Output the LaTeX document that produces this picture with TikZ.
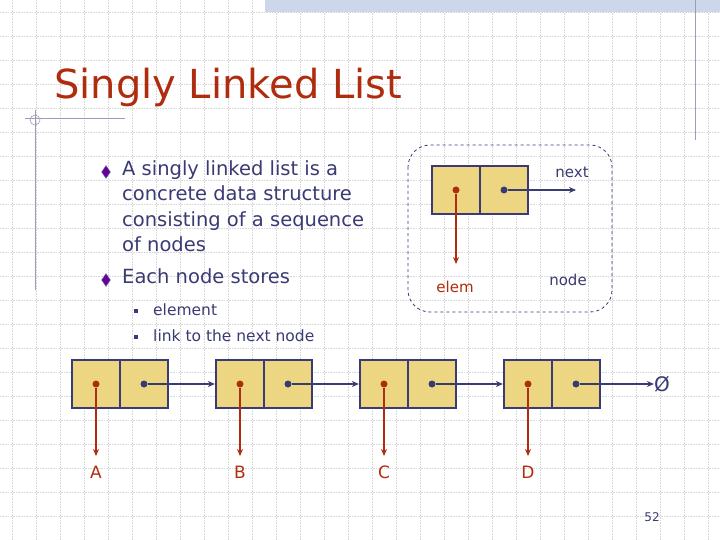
\documentclass[tikz,border=0pt]{standalone}
\usepackage{fontspec}
\setmainfont{DejaVu Sans}
\usetikzlibrary{positioning,arrows.meta,shapes.geometric}
\definecolor{cellfill}{RGB}{236,214,130}
\definecolor{navy}{RGB}{58,58,116}
\definecolor{rust}{RGB}{176,44,14}
\definecolor{gridcol}{RGB}{215,215,215}
\definecolor{bandcol}{RGB}{205,215,235}
\tikzset{
  cell/.style={draw=navy,line width=2.2pt,fill=cellfill,minimum width=48pt,minimum height=48pt,inner sep=0pt},
  elemarrow/.style={draw=rust,line width=2.5pt,-{Stealth[length=7pt,width=6pt]}},
  nextarrow/.style={draw=navy,line width=2.5pt,-{Stealth[length=7pt,width=6pt]}},
  dotr/.style={circle,fill=rust,inner sep=0pt,minimum size=7pt},
  dotn/.style={circle,fill=navy,inner sep=0pt,minimum size=7pt},
  lbl/.style={font=\fontsize{15}{18}\selectfont,inner sep=0pt},
  body/.style={font=\fontsize{19.5}{25.5}\selectfont,text=navy,align=left,anchor=north west,inner sep=0pt},
  sub/.style={font=\fontsize{15.5}{26}\selectfont,text=navy,anchor=west,inner sep=0pt},
  bullet/.style={diamond,draw=navy!70,fill=violet!80!blue,inner sep=0pt,minimum width=9pt,minimum height=13pt},
  sqbullet/.style={rectangle,fill=navy,inner sep=0pt,minimum size=4.5pt}
}
\begin{document}
\begin{tikzpicture}[x=1pt,y=-1pt]
\useasboundingbox (0,0) rectangle (720,540);
\fill[white] (0,0) rectangle (720,540);
% grid
\foreach \gx in {12,36,...,708} \draw[gridcol,densely dotted,line width=0.6pt] (\gx,0) -- (\gx,540);
\foreach \gy in {12,36,...,540} \draw[gridcol,densely dotted,line width=0.6pt] (0,\gy) -- (720,\gy);
\fill[bandcol] (265,0) rectangle (720,12);
\draw[navy!50,line width=0.8pt] (695,0) -- (695,140);
\draw[navy!50,line width=0.8pt] (25,118) -- (125,118);
\draw[navy!50,line width=0.8pt] (35,110) -- (35,290);
\draw[navy!50,line width=0.6pt] (35,120) circle (5pt);
% title
\node[anchor=west,text=rust,font=\fontsize{40}{44}\selectfont,inner sep=0pt] (title) at (54,87) {Singly Linked List};
% text
\node[bullet] (b1) at (106,172) {};
\node[body] (t1) at (122,160) {A singly linked list is a\\concrete data structure\\consisting of a sequence\\of nodes};
\node[bullet] (b2) at (106,280) {};
\node[body] (t2) at (122,268) {Each node stores};
\node[sqbullet] (s1) at (136,311) {};
\node[sub] (u1) at (153,310) {element};
\node[sqbullet] (s2) at (136,337) {};
\node[sub] (u2) at (153,336) {link to the next node};
% node legend
\draw[navy,dashed,line width=0.8pt,rounded corners=22pt] (408,145) rectangle (612,312);
\node[cell] (e0) at (456,190) {};
\node[cell] (n0) at (504,190) {};
\node[dotr] (de0) at (456,190) {};
\node[dotn] (dn0) at (504,190) {};
\coordinate (ee0) at (456,264);
\coordinate (ne0) at (576,190);
\draw[elemarrow] (de0) -- (ee0);
\draw[nextarrow] (dn0) -- (ne0);
\node[lbl,text=rust] (elem) at (455,287) {elem};
\node[lbl,text=navy] (next) at (572,172) {next};
\node[lbl,text=navy] (nodel) at (568,280) {node};
% list
\foreach \i/\name/\x in {1/A/96,2/B/240,3/C/384,4/D/528}{
  \node[cell] (e\i) at (\x,384) {};
  \node[cell] (n\i) at (\x+48,384) {};
  \node[dotr] (de\i) at (\x,384) {};
  \node[dotn] (dn\i) at (\x+48,384) {};
  \coordinate (ea\i) at (\x,456);
  \draw[elemarrow] (de\i) -- (ea\i);
  \node[lbl,text=rust,font=\fontsize{17}{20}\selectfont] (l\i) at (\x,472) {\name};
}
\draw[nextarrow] (dn1) -- (e2.west);
\draw[nextarrow] (dn2) -- (e3.west);
\draw[nextarrow] (dn3) -- (e4.west);
\node[lbl,text=navy,font=\fontsize{20}{20}\selectfont] (null) at (662,384) {Ø};
\draw[nextarrow] (dn4) -- (null.west);
\node[lbl,text=navy,font=\fontsize{12}{14}\selectfont] (page) at (652,517) {52};
\end{tikzpicture}
\end{document}
